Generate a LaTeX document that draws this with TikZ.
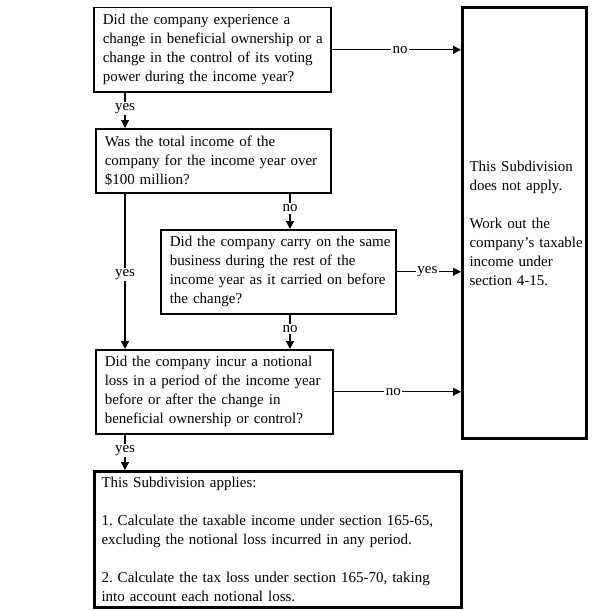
\documentclass[tikz,border=0pt]{standalone}
\usepackage{fontspec}
\setmainfont{Liberation Serif}
\usetikzlibrary{arrows.meta}
\frenchspacing
\begin{document}
\begin{tikzpicture}[x=1pt,y=-1pt,
  every node/.style={font=\fontsize{15}{19}\selectfont},
  qbox/.style={draw, line width=1.5pt, anchor=north west, align=left, inner xsep=8pt, inner ysep=0pt},
  bigbox/.style={draw, line width=3pt, anchor=north west, align=left, inner xsep=7pt, inner ysep=0pt},
  conn/.style={line width=1.2pt, -{Triangle[length=8pt,width=8pt]}},
  lab/.style={fill=white, inner sep=1.5pt}
]
\useasboundingbox (0,0) rectangle (600,610);
% question boxes
\node[qbox, minimum width=237pt, minimum height=84pt, text width=219pt] (q1) at (93,7)
  {\mbox{Did the company experience a}\\\mbox{change in beneficial ownership or a}\\\mbox{change in the control of its voting}\\\mbox{power during the income year?}};
\node[qbox, minimum width=235pt, minimum height=64pt, text width=217pt] (q2) at (95,128)
  {\mbox{Was the total income of the}\\\mbox{company for the income year over}\\\mbox{\$100 million?}};
\node[qbox, minimum width=235pt, minimum height=84pt, text width=217pt] (q3) at (160,229)
  {\mbox{Did the company carry on the same}\\\mbox{business during the rest of the}\\\mbox{income year as it carried on before}\\\mbox{the change?}};
\node[qbox, minimum width=237pt, minimum height=84pt, text width=219pt] (q4) at (95,349)
  {\mbox{Did the company incur a notional}\\\mbox{loss in a period of the income year}\\\mbox{before or after the change in}\\\mbox{beneficial ownership or control?}};
% result boxes
\node[bigbox, minimum width=124pt, minimum height=431pt, text width=110pt] (r1) at (461,6)
  {\mbox{This Subdivision}\\\mbox{does not apply.}\\[19pt]\mbox{Work out the}\\\mbox{company’s taxable}\\\mbox{income under}\\\mbox{section 4-15.}};
\node[bigbox, minimum width=367pt, minimum height=136pt, text width=353pt] (r2) at (93,470)
  {\mbox{This Subdivision applies:}\\[19pt]\mbox{1. Calculate the taxable income under section 165-65,}\\\mbox{excluding the notional loss incurred in any period.}\\[19pt]\mbox{2. Calculate the tax loss under section 165-70, taking}\\\mbox{into account each notional loss.}};
% guide coordinates
\coordinate (cx) at (125,0);
\coordinate (cy) at (290,0);
% connectors
\draw[conn] (q1.south -| cx) -- node[lab, pos=0.45]{yes} (q2.north -| cx);
\draw[conn] (q2.south -| cy) -- node[lab, pos=0.42]{no} (q3.north -| cy);
\draw[conn] (q2.south -| cx) -- node[lab, pos=0.52]{yes} (q4.north -| cx);
\draw[conn] (q3.south -| cy) -- node[lab, pos=0.42]{no} (q4.north -| cy);
\draw[conn] (q4.south -| cx) -- node[lab, pos=0.45]{yes} (r2.north -| cx);
\draw[conn] (q1.east) -- node[lab, pos=0.53]{no} (q1.east -| r1.west);
\draw[conn] (q3.east) -- node[lab, pos=0.48]{yes} (q3.east -| r1.west);
\draw[conn] (q4.east) -- node[lab, pos=0.47]{no} (q4.east -| r1.west);
\end{tikzpicture}
\end{document}
